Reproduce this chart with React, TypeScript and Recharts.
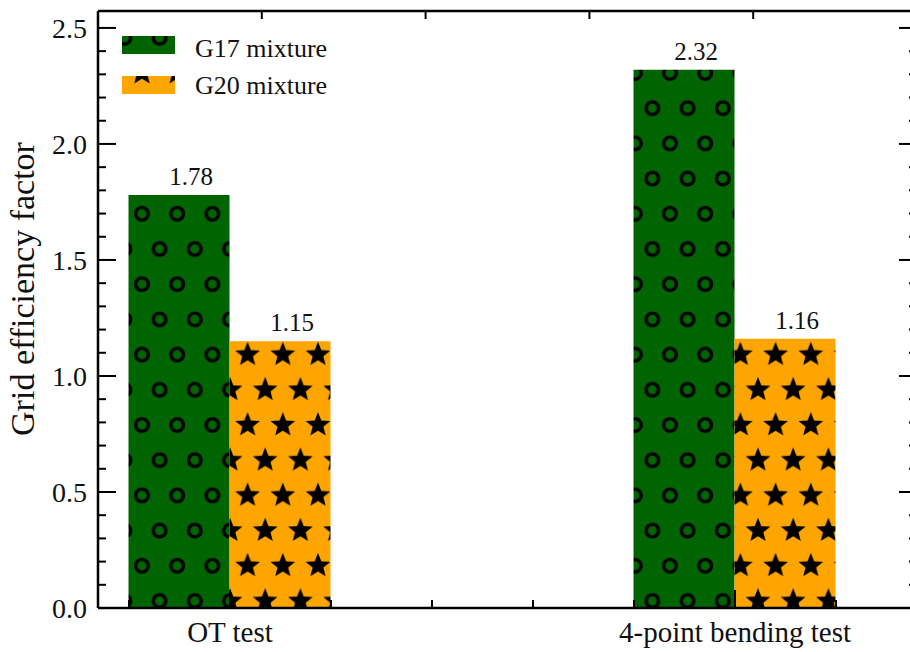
import { BarChart, Bar, XAxis, YAxis, LabelList } from 'recharts';

const categories = ['OT test', '4-point bending test'];
const positions = [0, 1];
const seriesNames = ['G17 mixture', 'G20 mixture'];
const g17 = [1.78, 2.32];
const g20 = [1.15, 1.16];

const xTicks = [-0.2, 0, 0.2, 0.4, 0.6, 0.8, 1.0, 1.2];
const xMajor = [0, 1];
const yTicks = [0, 0.1, 0.2, 0.3, 0.4, 0.5, 0.6, 0.7, 0.8, 0.9, 1.0, 1.1, 1.2, 1.3, 1.4, 1.5, 1.6, 1.7, 1.8, 1.9, 2.0, 2.1, 2.2, 2.3, 2.4, 2.5];
const yMajor = [0, 0.5, 1.0, 1.5, 2.0, 2.5];

const X_DOMAIN: [number, number] = [-0.2614, 1.3604];
const Y_DOMAIN: [number, number] = [0, 2.573];

const data = positions.map((x, i) => ({ x, name: categories[i], g17: g17[i], g20: g20[i] }));

const FONT = 'Liberation Serif, Times New Roman, serif';
const serif = { fontFamily: FONT };
const INK = '#111';
const GREEN = '#006400';
const ORANGE = '#FFA500';
const MAJOR = 18;
const MINOR = 8;

// hatch lattice (hexagonal, shared by both fills)
const CELL_W = 35.2;
const CELL_H = 70.4;
const lattice = [
  [0, 0],
  [CELL_W, 0],
  [0, CELL_H],
  [CELL_W, CELL_H],
  [CELL_W / 2, CELL_H / 2],
];

function starPath(cx: number, cy: number, R: number, r: number) {
  const pts: string[] = [];
  for (let k = 0; k < 10; k++) {
    const rad = k % 2 === 0 ? R : r;
    const a = -Math.PI / 2 + (k * Math.PI) / 5;
    pts.push(`${(cx + rad * Math.cos(a)).toFixed(2)},${(cy + rad * Math.sin(a)).toFixed(2)}`);
  }
  return `M${pts.join('L')}Z`;
}

const near = (list: number[], v: number) => list.some((m) => Math.abs(m - v) < 1e-6);

function LeftTick({ x, y, payload }: any) {
  const major = near(yMajor, payload.value);
  return (
    <g>
      <line x1={x} x2={x + (major ? MAJOR : MINOR)} y1={y} y2={y} stroke="#000" strokeWidth={2} />
      {major && (
        <text x={x - 11} y={y} dy={10} textAnchor="end" fontSize={28} style={serif} fill={INK}>
          {payload.value.toFixed(1)}
        </text>
      )}
    </g>
  );
}

function RightTick({ x, y, payload }: any) {
  const major = near(yMajor, payload.value);
  return <line x1={x} x2={x - (major ? MAJOR : MINOR)} y1={y} y2={y} stroke="#000" strokeWidth={2} />;
}

function BottomTick({ x, y, payload }: any) {
  const major = near(xMajor, payload.value);
  const idx = positions.findIndex((p) => Math.abs(p - payload.value) < 1e-6);
  return (
    <g>
      <line x1={x} x2={x} y1={y} y2={y - (major ? MAJOR : MINOR)} stroke="#000" strokeWidth={2} />
      {idx >= 0 && (
        <text x={x} y={y + 34} textAnchor="middle" fontSize={29} style={serif} fill={INK}>
          {categories[idx]}
        </text>
      )}
    </g>
  );
}

function TopTick({ x, y, payload }: any) {
  const major = near(xMajor, payload.value);
  return <line x1={x} x2={x} y1={y} y2={y + (major ? MAJOR : MINOR)} stroke="#000" strokeWidth={2} />;
}

function ValueLabel({ x, y, width, value }: any) {
  return (
    <text x={x + width / 2 + 12} y={y - 10} textAnchor="middle" fontSize={25} style={serif} fill={INK}>
      {Number(value).toFixed(2)}
    </text>
  );
}

function HatchLegend() {
  const fills = ['url(#hatchCircles)', 'url(#hatchStars)'];
  return (
    <g>
      {seriesNames.map((name, i) => (
        <g key={name}>
          <rect x={122} y={36 + i * 40} width={53} height={18} fill={fills[i]} />
          <text x={195} y={57 + i * 37} fontSize={26} style={serif} fill={INK}>
            {name}
          </text>
        </g>
      ))}
    </g>
  );
}

const axisLine = { stroke: '#000', strokeWidth: 2.5 };

export default function App() {
  return (
    <div style={{ position: 'absolute', left: 0, top: 0, width: 910, height: 652, overflow: 'hidden', background: '#fff' }}>
      <BarChart width={920} height={652} data={data} margin={{ top: 0, right: 0, bottom: 0, left: 0 }} barGap={0}>
        <defs>
          <pattern id="hatchCircles" patternUnits="userSpaceOnUse" x={142} y={73} width={CELL_W} height={CELL_H}>
            <rect width={CELL_W} height={CELL_H} fill={GREEN} />
            {lattice.map(([cx, cy], i) => (
              <circle key={i} cx={cx} cy={cy} r={6.3} fill="none" stroke="#000" strokeWidth={3.4} />
            ))}
          </pattern>
          <pattern id="hatchStars" patternUnits="userSpaceOnUse" x={142} y={73} width={CELL_W} height={CELL_H}>
            <rect width={CELL_W} height={CELL_H} fill={ORANGE} />
            {lattice.map(([cx, cy], i) => (
              <path key={i} d={starPath(cx, cy, 13, 5.6)} fill="#000" />
            ))}
          </pattern>
        </defs>
        <XAxis
          xAxisId="b"
          type="number"
          dataKey="x"
          domain={X_DOMAIN}
          ticks={xTicks}
          interval={0}
          allowDataOverflow
          height={44}
          tickSize={0}
          tickMargin={0}
          tickLine={false}
          axisLine={axisLine}
          tick={<BottomTick />}
        />
        <XAxis
          xAxisId="t"
          orientation="top"
          type="number"
          domain={X_DOMAIN}
          ticks={xTicks}
          interval={0}
          allowDataOverflow
          height={11}
          tickSize={0}
          tickMargin={0}
          tickLine={false}
          axisLine={axisLine}
          tick={<TopTick />}
        />
        <YAxis
          yAxisId="l"
          domain={Y_DOMAIN}
          ticks={yTicks}
          interval={0}
          allowDataOverflow
          width={98}
          tickSize={0}
          tickMargin={0}
          tickLine={false}
          axisLine={axisLine}
          tick={<LeftTick />}
        />
        <YAxis
          yAxisId="r"
          orientation="right"
          domain={Y_DOMAIN}
          ticks={yTicks}
          interval={0}
          allowDataOverflow
          width={3}
          tickSize={0}
          tickMargin={0}
          tickLine={false}
          axisLine={axisLine}
          tick={<RightTick />}
        />
        <Bar xAxisId="b" yAxisId="l" dataKey="g17" name={seriesNames[0]} fill="url(#hatchCircles)" barSize={101} isAnimationActive={false}>
          <LabelList dataKey="g17" content={<ValueLabel />} />
        </Bar>
        <Bar xAxisId="b" yAxisId="l" dataKey="g20" name={seriesNames[1]} fill="url(#hatchStars)" barSize={101} isAnimationActive={false}>
          <LabelList dataKey="g20" content={<ValueLabel />} />
        </Bar>
        <HatchLegend />
        <text transform="rotate(-90)" x={-289} y={34} textAnchor="middle" fontSize={34} style={serif} fill={INK}>
          Grid efficiency factor
        </text>
      </BarChart>
    </div>
  );
}
